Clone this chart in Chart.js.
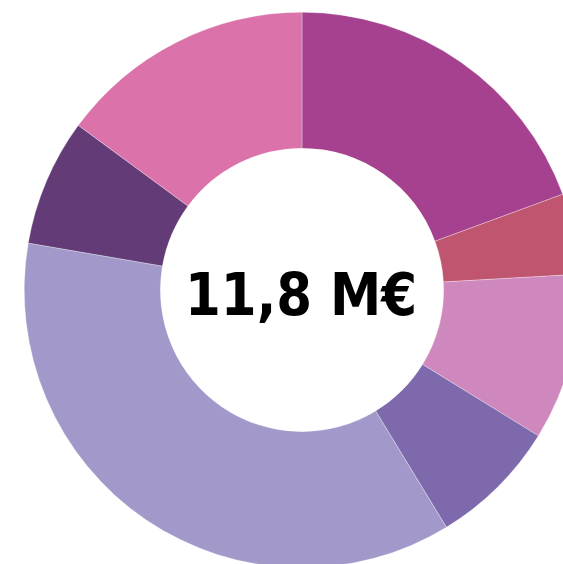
<!DOCTYPE html>
<html><head><meta charset="utf-8">
<script src="https://cdn.jsdelivr.net/npm/chart.js@4/dist/chart.umd.min.js"></script>
<style>
html,body{margin:0;padding:0;background:#fff;width:563px;height:564px;overflow:hidden;position:relative}
#wrap{position:absolute;left:24px;top:12px;width:556px;height:556px}
</style></head><body>
<div id="wrap"><canvas id="c" width="556" height="556"></canvas></div>
<script>
const categories = ["A","B","C","D","E","F","G"];
const values = [19.4, 4.7, 9.7, 7.5, 36.4, 7.4, 14.9];
const colors = ["#A5418F","#C0556F","#CF88BD","#7E69AC","#A299CA","#633B77","#DB72AA"];
const centerLabel = "11,8 M€";

const centerText = {
  id:'centerText',
  afterDraw(chart){
    const ctx = chart.ctx;
    const meta = chart.getDatasetMeta(0).data[0];
    const cx = meta.x, cy = meta.y;
    ctx.save();
    ctx.font = "bold 59px 'DejaVu Sans'";
    const w = ctx.measureText(centerLabel).width;
    const sx = 232 / w;
    ctx.translate(cx - 1, cy + 25);
    ctx.scale(sx, 1);
    ctx.fillStyle = "#000";
    ctx.textAlign = "center";
    ctx.textBaseline = "alphabetic";
    ctx.fillText(centerLabel, 0, 0);
    ctx.restore();
  }
};

new Chart(document.getElementById('c'), {
  type:'doughnut',
  data:{labels:categories, datasets:[{data:values, backgroundColor:colors, borderWidth:0.5, borderColor:'rgba(255,255,255,0.6)'}]},
  options:{
    responsive:false, animation:false, cutout:'51%',
    layout:{padding:0},
    plugins:{legend:{display:false}, tooltip:{enabled:false}}
  },
  plugins:[centerText]
});
</script>
</body></html>
